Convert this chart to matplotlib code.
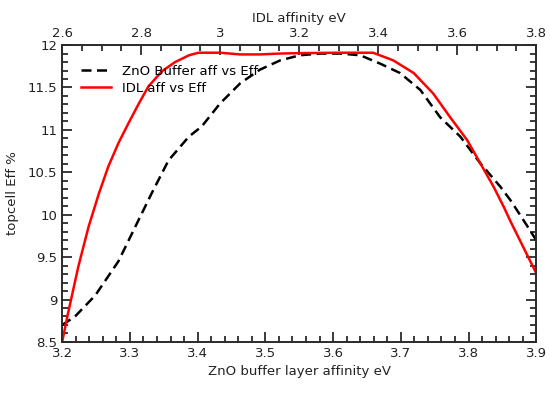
import matplotlib
matplotlib.use('Agg')
import matplotlib.pyplot as plt
from matplotlib.ticker import MultipleLocator

# ZnO buffer layer affinity (bottom axis) vs efficiency
zno_aff = [3.200, 3.219, 3.249, 3.283, 3.313, 3.332, 3.357, 3.387, 3.406, 3.433,
           3.463, 3.492, 3.522, 3.551, 3.581, 3.611, 3.640, 3.670, 3.699, 3.729,
           3.758, 3.788, 3.817, 3.847, 3.862, 3.880, 3.900]
zno_eff = [8.70, 8.80, 9.05, 9.45, 9.94, 10.25, 10.64, 10.92, 11.04, 11.31,
           11.55, 11.71, 11.82, 11.88, 11.90, 11.90, 11.88, 11.78, 11.67, 11.47,
           11.15, 10.92, 10.61, 10.33, 10.17, 9.95, 9.70]

# IDL affinity (top axis) vs efficiency
idl_aff = [2.600, 2.615, 2.641, 2.667, 2.693, 2.717, 2.742, 2.768, 2.794, 2.818,
           2.852, 2.886, 2.921, 2.945, 3.000, 3.050, 3.100, 3.150, 3.200, 3.300,
           3.387, 3.438, 3.490, 3.539, 3.582, 3.625, 3.658, 3.692, 3.718, 3.735,
           3.800]
idl_eff = [8.50, 8.84, 9.39, 9.86, 10.25, 10.57, 10.84, 11.08, 11.31, 11.51,
           11.69, 11.80, 11.88, 11.91, 11.91, 11.89, 11.89, 11.90, 11.905, 11.91,
           11.91, 11.82, 11.67, 11.43, 11.15, 10.88, 10.61, 10.33, 10.09, 9.92,
           9.31]

y_ticks = [8.5, 9, 9.5, 10, 10.5, 11, 11.5, 12]
y_labels = ['8.5', '9', '9.5', '10', '10.5', '11', '11.5', '12']
top_ticks = [2.6, 2.8, 3.0, 3.2, 3.4, 3.6, 3.8]
top_labels = ['2.6', '2.8', '3', '3.2', '3.4', '3.6', '3.8']

frame_col = '#2a2a2a'
text_col = '#222222'
plt.rcParams['axes.edgecolor'] = frame_col
plt.rcParams['axes.linewidth'] = 1.2
plt.rcParams['xtick.labelsize'] = 9.5
plt.rcParams['ytick.labelsize'] = 9.5
plt.rcParams['xtick.labelcolor'] = text_col
plt.rcParams['ytick.labelcolor'] = text_col

fig = plt.figure(figsize=(5.5, 3.99), dpi=100)
ax = fig.add_axes([0.113, 0.143, 0.862, 0.744])
ax2 = ax.twiny()

l1, = ax.plot(zno_aff, zno_eff, color='black', linestyle=(0, (4, 2.2)), linewidth=1.8,
              label='ZnO Buffer aff vs Eff')
l2, = ax2.plot(idl_aff, idl_eff, color='red', linewidth=1.8, label='IDL aff vs Eff')

ax.set_xlim(3.2, 3.9)
ax.set_ylim(8.5, 12)
ax2.set_xlim(2.6, 3.8)

ax.xaxis.set_major_locator(MultipleLocator(0.1))
ax.set_yticks(y_ticks)
ax.set_yticklabels(y_labels)
ax2.set_xticks(top_ticks)
ax2.set_xticklabels(top_labels)

# inward ticks on all four sides
ax.tick_params(axis='both', which='both', direction='in', color=frame_col, width=1.3, right=True)
ax.tick_params(axis='both', which='major', length=7)
ax.tick_params(axis='both', which='minor', length=4)
ax2.tick_params(axis='x', which='both', direction='in', color=frame_col, width=1.3)
ax2.tick_params(axis='x', which='major', length=7)
ax2.tick_params(axis='x', which='minor', length=4)

ax.xaxis.set_minor_locator(MultipleLocator(0.02))
ax.yaxis.set_minor_locator(MultipleLocator(0.1))
ax2.xaxis.set_minor_locator(MultipleLocator(0.05))

ax.set_xlabel('ZnO buffer layer affinity eV', fontsize=9.5, color=text_col, labelpad=4)
ax.set_ylabel('topcell Eff %', fontsize=9.5, color=text_col, labelpad=6)
ax2.set_xlabel('IDL affinity eV', fontsize=9.5, color=text_col, labelpad=4)

ax2.legend(handles=[l1, l2], loc='upper left', bbox_to_anchor=(0.02, 0.965),
           frameon=False, fontsize=9.5, handlelength=2.3, handletextpad=0.8,
           borderaxespad=0.3, labelspacing=0.3)

fig.savefig('out.png', dpi=100)
